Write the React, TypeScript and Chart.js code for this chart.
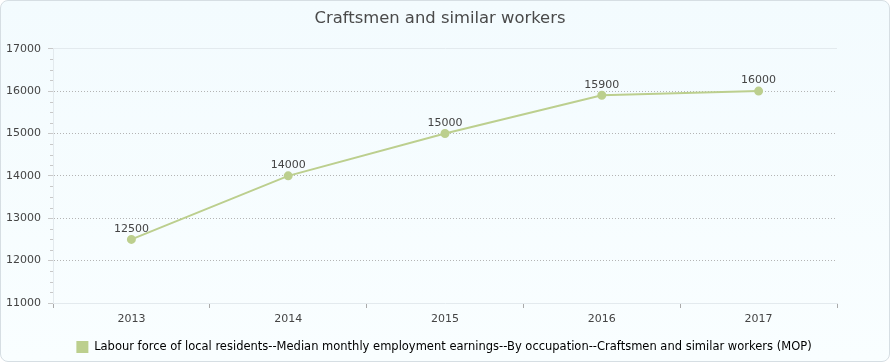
import React, { useEffect, useRef } from "react";
import { Chart, registerables } from "chart.js";

Chart.register(...registerables);

const categories = ["2013", "2014", "2015", "2016", "2017"];
const seriesValues = [12500, 14000, 15000, 15900, 16000];
const seriesName =
  "Labour force of local residents--Median monthly employment earnings--By occupation--Craftsmen and similar workers (MOP)";
const titleText = "Craftsmen and similar workers";
const yMin = 11000;
const yMax = 17000;
const yStep = 1000;
const yMinorStep = 250;

const FONT = "'DejaVu Sans', Verdana, sans-serif";
const LINE_COLOR = "#bccf8e";
const AXIS_LIGHT = "#e3eaee";

const extrasPlugin = {
  id: "extras",
  afterLayout(chart: any) {
    const lg = chart.legend;
    if (lg && !lg._shifted) {
      lg.left += 4;
      lg.right += 4;
      lg._shifted = true;
    }
  },
  afterDraw(chart: any) {
    const ctx = chart.ctx;
    const y = chart.scales.y;
    const area = chart.chartArea;
    ctx.save();
    // minor y ticks
    ctx.strokeStyle = "#c8c8c8";
    ctx.lineWidth = 1;
    for (let v = yMin; v <= yMax; v += yMinorStep) {
      if (v % yStep === 0) continue;
      const py = Math.round(y.getPixelForValue(v)) + 0.5;
      ctx.beginPath();
      ctx.moveTo(area.left - 3, py);
      ctx.lineTo(area.left, py);
      ctx.stroke();
    }
    // data labels
    const meta = chart.getDatasetMeta(0);
    ctx.fillStyle = "#444";
    ctx.font = `11px ${FONT}`;
    ctx.textAlign = "center";
    ctx.textBaseline = "bottom";
    meta.data.forEach((pt: any, i: number) => {
      ctx.fillText(String(seriesValues[i]), pt.x, pt.y - 5);
    });
    ctx.restore();
  },
};

export default function App() {
  const ref = useRef<HTMLCanvasElement>(null);
  useEffect(() => {
    document.body.style.margin = "0";
    const chart = new Chart(ref.current!, {
      type: "line",
      data: {
        labels: categories,
        datasets: [
          {
            label: seriesName,
            data: seriesValues,
            borderColor: LINE_COLOR,
            backgroundColor: LINE_COLOR,
            pointBackgroundColor: LINE_COLOR,
            pointBorderColor: LINE_COLOR,
            borderWidth: 2,
            pointRadius: 3.5,
            tension: 0,
          },
        ],
      },
      options: {
        animation: false,
        responsive: false,
        maintainAspectRatio: false,
        layout: { padding: { left: 0, right: 10, top: 0, bottom: -2 } },
        plugins: {
          title: {
            display: true,
            text: titleText,
            color: "#4a4a4a",
            font: { family: FONT, size: 16.4, weight: "normal" },
            padding: { top: 8, bottom: 20 },
          },
          legend: {
            position: "bottom",
            labels: {
              color: "#444",
              font: { family: FONT, size: 11.5 },
              boxWidth: 12,
              boxHeight: 12,
              padding: 4,
              generateLabels: () => [
                {
                  text: seriesName,
                  fillStyle: LINE_COLOR,
                  strokeStyle: LINE_COLOR,
                  lineWidth: 0,
                  hidden: false,
                  datasetIndex: 0,
                },
              ],
            },
          },
          tooltip: { enabled: false },
        },
        scales: {
          x: {
            type: "category",
            offset: true,
            afterFit: (s: any) => {
              s.height = 34;
            },
            grid: {
              offset: true,
              drawOnChartArea: true,
              drawTicks: true,
              tickLength: 5,
              tickColor: "#aaa",
              color: (c: any) => (c.index === categories.length ? AXIS_LIGHT : "rgba(0,0,0,0)"),
            },
            border: { display: true, color: AXIS_LIGHT },
            ticks: {
              color: "#444",
              font: { family: FONT, size: 11 },
              padding: 5,
            },
          },
          y: {
            min: yMin,
            max: yMax,
            afterFit: (s: any) => {
              s.width = 52;
            },
            grid: {
              drawTicks: true,
              tickLength: 5,
              tickColor: "#c8c8c8",
              color: (c: any) => {
                const v = c.tick ? c.tick.value : 0;
                if (v === yMax) return AXIS_LIGHT;
                if (v === yMin) return "rgba(0,0,0,0)";
                return "#b4b4b4";
              },
            },
            border: {
              display: true,
              color: AXIS_LIGHT,
              dash: (c: any) => {
                const v = c.tick ? c.tick.value : 0;
                return v === yMax ? [] : [1, 2];
              },
            },
            ticks: {
              stepSize: yStep,
              color: "#444",
              font: { family: FONT, size: 11 },
              padding: 7,
              callback: (v: any) => String(v),
            },
          },
          yRight: {
            position: "right",
            min: yMin,
            max: yMax,
            afterFit: (s: any) => {
              s.width = 42;
            },
            grid: { display: false, drawOnChartArea: false },
            border: { display: false },
            ticks: { display: false },
          },
        },
      },
      plugins: [extrasPlugin],
    });
    return () => chart.destroy();
  }, []);

  return (
    <div
      style={{
        width: 890,
        height: 362,
        boxSizing: "border-box",
        border: "1px solid #d6dee3",
        borderRadius: 8,
        background: "linear-gradient(#f3fbfe, #f9feff)",
        overflow: "hidden",
        position: "relative",
      }}
    >
      <canvas
        ref={ref}
        width={888}
        height={360}
        style={{ display: "block", width: 888, height: 360 }}
      />
    </div>
  );
}
